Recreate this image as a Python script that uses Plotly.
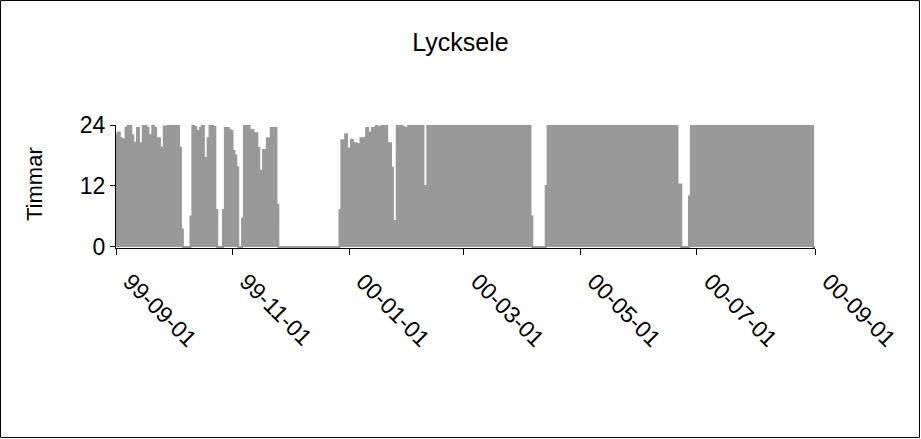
import pandas as pd
import plotly.graph_objects as go

# Daily hours (Timmar), one value per day from 1999-09-01 to 2000-09-01
sep99 = [22.2, 22.5, 21.4, 21.2, 20.4, 23.4, 24, 24, 22, 20.5,
         20.5, 23.4, 20.4, 20.4, 24, 24, 23.4, 22, 22, 24,
         23.4, 21.4, 21.4, 19.5, 12.3, 23.7, 23.7, 24, 23.4, 24]
oct99 = [24, 24, 24, 19.5, 3.5, 0, 0, 0, 0, 6,
         24, 23.6, 20.5, 22.8, 23.4, 24, 17.5, 15.6, 21.4, 23.8,
         23.8, 23.6, 7.3, 0, 0, 0, 7.3, 23.4, 23.4, 23,
         22.8]
nov99 = [18.9, 18, 15.7, 0, 0, 5.6, 24, 24, 24, 23,
         23, 22.4, 22.4, 19.5, 15, 9.3, 19.1, 19.1, 21.4, 21.4,
         23.4, 23.4, 23.4, 8.3, 0, 0, 0, 0, 0, 0]
dec99 = [0, 0, 0, 0, 0, 0, 0, 0, 0, 0,
         0, 0, 0, 0, 0, 0, 0, 0, 0, 0,
         0, 0, 0, 0, 0, 0, 7.3, 21, 21, 22.2,
         18.3]
jan00 = [19.4, 21.1, 20.4, 20.4, 20.2, 19.8, 21.4, 21.4, 19.2, 23.4,
         22.5, 22.5, 23.4, 23.4, 24, 23.6, 23.6, 24, 22.2, 24,
         20.4, 20.4, 15.6, 2.8, 5.1, 24, 22.2, 24, 23.6, 23.4,
         23.4]
feb00 = [24, 24, 24, 24, 24, 24, 24, 24, 12, 8.3,
         24, 24, 24, 24, 24, 24, 24, 24, 24, 24,
         24, 24, 24, 24, 24, 24, 24, 24, 24]
mar00 = [24, 24, 24, 24, 24, 24, 24, 24, 23.5, 24,
         24, 24, 24, 24, 24, 24, 24, 24, 24, 24,
         24, 24, 24, 23.6, 24, 24, 24, 24, 24, 24,
         24]
apr00 = [24, 24, 22.6, 24, 6, 0, 0, 0, 0, 0,
         0, 0, 12, 24, 24, 24, 24, 23, 24, 24,
         24, 24, 24, 24, 24, 24, 24, 24, 24, 24]
may00 = [24, 24, 24, 24, 24, 24, 24, 24, 24, 24,
         24, 24, 24, 24, 24, 24, 24, 24, 24, 24,
         24, 24, 24, 19.4, 24, 24, 24, 24, 24, 24,
         24]
jun00 = [24, 24, 24, 24, 24, 24, 24, 24, 24, 24,
         24, 24, 24, 24, 24, 24, 24, 23.7, 24, 24,
         12.3, 12.3, 0, 0, 0, 0, 10, 24, 24, 22]
jul00 = [24, 24, 24, 24, 24, 24, 24, 24, 24, 24,
         24, 24, 24, 24, 24, 24, 24, 24, 24, 24,
         24, 24, 24, 24, 24, 24, 24, 24, 23.2, 24,
         24]
aug00 = [24, 24, 24, 24, 24, 24, 24, 24, 24, 24,
         24, 24, 24, 24, 24, 24, 24, 24, 24, 24,
         24, 24, 24, 24, 24, 24, 24, 24, 24, 24,
         0]
sep00 = [0]

hours = sep99 + oct99 + nov99 + dec99 + jan00 + feb00 + mar00 + apr00 + may00 + jun00 + jul00 + aug00 + sep00
dates = pd.date_range("1999-09-01", periods=len(hours), freq="D")

tick_dates = ["1999-09-01", "1999-11-01", "2000-01-01", "2000-03-01",
              "2000-05-01", "2000-07-01", "2000-09-01"]
tick_labels = ["99-09-01", "99-11-01", "00-01-01", "00-03-01",
               "00-05-01", "00-07-01", "00-09-01"]
y_ticks = [0, 12, 24]

title_text = "Lycksele"
y_title = "Timmar"

W, H = 921, 439
L, R, T, B = 116, 106, 125, 191
pw, ph = W - L - R, H - T - B

FONT = "Liberation Sans, Arial, sans-serif"
GRAY = "#999999"
AX = 23

fig = go.Figure()
fig.add_trace(go.Scatter(
    x=dates, y=hours, mode="lines",
    line=dict(color=GRAY, width=2, shape="hv"),
    fill="tozeroy", fillcolor=GRAY,
    hoverinfo="skip", showlegend=False,
))

fig.update_layout(
    width=W, height=H,
    margin=dict(l=L, r=R, t=T, b=B, pad=0),
    paper_bgcolor="white", plot_bgcolor="white",
    font=dict(family=FONT, size=AX, color="black"),
    title=dict(text=title_text, x=0.5, xanchor="center", xref="container",
               y=1 - 42 / H, yanchor="middle", yref="container",
               font=dict(family=FONT, size=25, color="black")),
    xaxis=dict(
        type="date", range=[tick_dates[0], tick_dates[-1]],
        tickvals=tick_dates, ticktext=tick_labels, tickangle=45,
        ticklabelshift=14, ticklabelstandoff=4,
        showline=True, linecolor="black", linewidth=1,
        ticks="outside", ticklen=6, tickcolor="black", tickwidth=1,
        showgrid=False, zeroline=False,
        tickfont=dict(family=FONT, size=AX, color="black"),
    ),
    yaxis=dict(
        range=[-0.2, 24], tickvals=y_ticks,
        showline=True, linecolor="black", linewidth=1,
        ticks="outside", ticklen=5, tickcolor="black", tickwidth=1,
        showgrid=False, zeroline=False,
        tickfont=dict(family=FONT, size=AX, color="black"),
    ),
    annotations=[dict(
        text=y_title, textangle=-90, showarrow=False,
        xref="paper", yref="paper",
        x=(34 - L) / pw, y=(T + ph - 184) / ph,
        xanchor="center", yanchor="middle",
        font=dict(family=FONT, size=AX - 1, color="black"),
    )],
    shapes=[dict(
        type="rect", xref="paper", yref="paper",
        x0=(0.5 - L) / pw, x1=(W - 1.5 - L) / pw,
        y0=-(B - 1.5) / ph, y1=1 + (T - 0.5) / ph,
        line=dict(color="black", width=1), fillcolor="rgba(0,0,0,0)",
        layer="below",
    )],
)

fig.write_html("out.html")
